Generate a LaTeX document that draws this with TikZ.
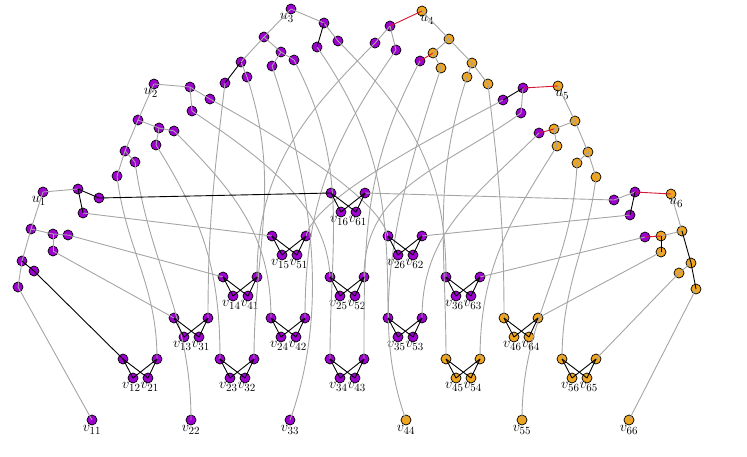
\documentclass[tikz,border=0pt]{standalone}
\definecolor{pur}{RGB}{158,0,208}
\definecolor{ora}{RGB}{240,165,30}
\definecolor{edg}{RGB}{165,165,165}
\definecolor{redg}{RGB}{215,20,50}
\newcommand\gadget[5]{%
  \node[#4] (#1TL) at (#2,#3) {};
  \node[#4] (#1TR) at ({#2+34},#3) {};
  \node[#4] (#1BL) at ({#2+10},{#3+19}) {};
  \node[#4] (#1BR) at ({#2+25},{#3+19}) {};
  \node[lab,anchor=north] (#1L) at ({#2+17.5},{#3+23.5}) {#5};
}
\newcommand\gadedges[1]{%
  \draw[be] (#1TL.center) -- (#1BL.center);
  \draw[be] (#1TL.center) -- (#1BR.center);
  \draw[be] (#1TR.center) -- (#1BL.center);
  \draw[be] (#1TR.center) -- (#1BR.center);
}
\begin{document}
\begin{tikzpicture}[x=1pt,y=-1pt,
  P/.style={circle,draw=black,line width=0.7pt,fill=pur,minimum size=10pt,inner sep=0pt},
  O/.style={P,fill=ora},
  ge/.style={draw=edg,line width=0.9pt},
  be/.style={draw=black,line width=0.9pt},
  re/.style={draw=redg,line width=0.9pt},
  lab/.style={font=\fontsize{15}{17}\selectfont,inner sep=0pt}]
\useasboundingbox (0,0) rectangle (747,456);

% ---------- gadgets ----------
\gadget{g16}{331}{193}{P}{$v_{16}v_{61}$}
\gadget{g15}{272}{236}{P}{$v_{15}v_{51}$}
\gadget{g26}{388}{236}{P}{$v_{26}v_{62}$}
\gadget{g14}{223}{277}{P}{$v_{14}v_{41}$}
\gadget{g25}{330}{277}{P}{$v_{25}v_{52}$}
\gadget{g36}{446}{277}{P}{$v_{36}v_{63}$}
\gadget{g13}{174}{318}{P}{$v_{13}v_{31}$}
\gadget{g24}{271}{318}{P}{$v_{24}v_{42}$}
\gadget{g35}{388}{318}{P}{$v_{35}v_{53}$}
\gadget{g46}{504}{318}{O}{$v_{46}v_{64}$}
\gadget{g12}{123}{359}{P}{$v_{12}v_{21}$}
\gadget{g23}{220}{359}{P}{$v_{23}v_{32}$}
\gadget{g34}{330}{359}{P}{$v_{34}v_{43}$}
\gadget{g45}{446}{359}{O}{$v_{45}v_{54}$}
\gadget{g56}{562}{359}{O}{$v_{56}v_{65}$}

% ---------- diagonal vertices ----------
\node[P] (v11) at (92,420) {};  \node[lab,anchor=north] (v11L) at (92,425.5) {$v_{11}$};
\node[P] (v22) at (191,420) {}; \node[lab,anchor=north] (v22L) at (191,425.5) {$v_{22}$};
\node[P] (v33) at (290,420) {}; \node[lab,anchor=north] (v33L) at (290,425.5) {$v_{33}$};
\node[O] (v44) at (406,420) {}; \node[lab,anchor=north] (v44L) at (406,425.5) {$v_{44}$};
\node[O] (v55) at (522,420) {}; \node[lab,anchor=north] (v55L) at (522,425.5) {$v_{55}$};
\node[O] (v66) at (629,420) {}; \node[lab,anchor=north] (v66L) at (629,425.5) {$v_{66}$};

% ---------- tree u1 ----------
\node[P] (U1) at (43,192) {}; \node[lab,anchor=north east] (U1L) at (46,196.5) {$u_1$};
\node[P] (A1) at (78,189) {}; \node[P] (D1) at (31,229) {};
\node[P] (E1) at (53,234) {}; \node[P] (H1) at (22,261) {};
\node[P] (L16) at (99,198) {}; \node[P] (L15) at (83,213) {};
\node[P] (L14) at (68,235) {}; \node[P] (L13) at (53,251) {};
\node[P] (L12) at (34,271) {}; \node[P] (L11) at (18,287) {};
% ---------- tree u2 ----------
\node[P] (U2) at (154,84) {}; \node[lab,anchor=north east] (U2L) at (158,88.5) {$u_2$};
\node[P] (A2) at (190,87) {}; \node[P] (D2) at (138,120) {};
\node[P] (E2) at (159,128) {}; \node[P] (H2) at (125,151) {};
\node[P] (L26) at (210,99) {}; \node[P] (L25) at (192,111) {};
\node[P] (L24) at (174,131) {}; \node[P] (L23) at (156,145) {};
\node[P] (L22) at (135,162) {}; \node[P] (L21) at (117,176) {};
% ---------- tree u3 ----------
\node[P] (U3) at (291,9) {}; \node[lab,anchor=north east] (U3L) at (294,13.5) {$u_3$};
\node[P] (A3) at (324,23) {}; \node[P] (D3) at (264,37) {};
\node[P] (E3) at (281,52) {}; \node[P] (H3) at (241,62) {};
\node[P] (L36) at (338,41) {}; \node[P] (L35) at (317,47) {};
\node[P] (L34) at (294,60) {}; \node[P] (L33) at (272,66) {};
\node[P] (L32) at (247,77) {}; \node[P] (L31) at (225,83) {};
% ---------- tree u4 ----------
\node[O] (U4) at (422,11) {}; \node[lab,anchor=north west] (U4L) at (420,15.5) {$u_4$};
\node[P] (A4) at (390,26) {}; \node[O] (D4) at (449,39) {};
\node[O] (E4) at (433,53) {}; \node[O] (H4) at (472,63) {};
\node[P] (L41) at (375,43) {}; \node[P] (L42) at (396,50) {};
\node[P] (L43) at (420,61) {}; \node[O] (L44) at (441,68) {};
\node[O] (L45) at (467,77) {}; \node[O] (L46) at (488,84) {};
% ---------- tree u5 ----------
\node[O] (U5) at (558,86) {}; \node[lab,anchor=north west] (U5L) at (555,90.5) {$u_5$};
\node[P] (A5) at (523,88) {}; \node[O] (D5) at (575,121) {};
\node[O] (E5) at (554,129) {}; \node[O] (H5) at (588,152) {};
\node[P] (L51) at (503,100) {}; \node[P] (L52) at (521,113) {};
\node[P] (L53) at (539,133) {}; \node[O] (L54) at (557,146) {};
\node[O] (L55) at (577,163) {}; \node[O] (L56) at (596,177) {};
% ---------- tree u6 ----------
\node[O] (U6) at (671,194) {}; \node[lab,anchor=north west] (U6L) at (669,198.5) {$u_6$};
\node[P] (A6) at (635,192) {}; \node[O] (D6) at (682,231) {};
\node[O] (E6) at (661,236) {}; \node[O] (H6) at (691,263) {};
\node[P] (L61) at (614,200) {}; \node[P] (L62) at (630,215) {};
\node[P] (L63) at (645,237) {}; \node[O] (L64) at (661,252) {};
\node[O] (L65) at (679,273) {}; \node[O] (L66) at (696,289) {};

% ---------- long connectors ----------
% u1 (straight)
\draw[ge] (L11.center) -- (v11.center);
\draw[ge] (L13.center) -- (g13TL.center);
\draw[ge] (L14.center) -- (g14TL.center);
\draw[ge] (L15.center) -- (g15TL.center);
% u6 (straight)
\draw[ge] (L61.center) -- (g16TR.center);
\draw[ge] (L62.center) -- (g26TR.center);
\draw[ge] (L63.center) -- (g36TR.center);
\draw[ge] (L64.center) -- (g46TR.center);
\draw[ge] (L65.center) -- (g56TR.center);
\draw[ge] (L66.center) -- (v66.center);
% u2
\draw[ge] (L21.center) .. controls +(9,74) and +(0,-75) .. (g12TR.center);
\draw[ge] (L22.center) .. controls +(15,105) and +(0,-106) .. (v22.center);
\draw[ge] (L23.center) .. controls +(47,75) and +(0,-89) .. (g23TL.center);
\draw[ge] (L24.center) .. controls +(59,59) and +(0,-84) .. (g24TL.center);
\draw[ge] (L25.center) .. controls +(75,50) and +(-3,-70) .. (g25TL.center);
\draw[ge] (L26.center) .. controls +(60,33) and +(-10,-40) .. (g26TL.center);
% u3
\draw[ge] (L31.center) .. controls +(-11,93) and +(0,-94) .. (g13TR.center);
\draw[ge] (L32.center) .. controls +(35,107) and +(0,-113) .. (g23TR.center);
\draw[ge] (L33.center) .. controls +(40,120) and +(40,-110) .. (v33.center);
\draw[ge] (L34.center) .. controls +(56,106) and +(0,-120) .. (g34TL.center);
\draw[ge] (L35.center) .. controls +(64,92) and +(0,-112) .. (g35TL.center);
\draw[ge] (L36.center) .. controls +(74,74) and +(0,-104) .. (g36TL.center);
% u4
\draw[ge] (L41.center) .. controls +(-74,74) and +(0,-105) .. (g14TR.center);
\draw[ge] (L42.center) .. controls +(-65,93) and +(0,-113) .. (g24TR.center);
\draw[ge] (L43.center) .. controls +(-57,107) and +(0,-121) .. (g34TR.center);
\draw[ge] (L44.center) .. controls +(-40,120) and +(-40,-110) .. (v44.center);
\draw[ge] (L45.center) .. controls +(-35,107) and +(0,-113) .. (g45TL.center);
\draw[ge] (L46.center) .. controls +(11,93) and +(0,-94) .. (g46TL.center);
% u5
\draw[ge] (L51.center) .. controls +(-65,35) and +(10,-40) .. (g15TR.center);
\draw[ge] (L52.center) .. controls +(-74,54) and +(0,-91) .. (g25TR.center);
\draw[ge] (L53.center) .. controls +(-62,62) and +(0,-87) .. (g35TR.center);
\draw[ge] (L54.center) .. controls +(-48,76) and +(0,-90) .. (g45TR.center);
\draw[ge] (L55.center) .. controls +(-4,105) and +(0,-105) .. (v55.center);
\draw[ge] (L56.center) .. controls +(-9,73) and +(0,-74) .. (g56TL.center);
% black long connectors
\draw[be] (L12.center) -- (g12TL.center);
\draw[be] (L16.center) -- (g16TL.center);

% ---------- tree edges ----------
\draw[ge] (U1.center) -- (A1.center);
\draw[ge] (U1.center) -- (D1.center);
\draw[ge] (D1.center) -- (E1.center);
\draw[ge] (E1.center) -- (L14.center);
\draw[ge] (E1.center) -- (L13.center);
\draw[ge] (D1.center) -- (H1.center);
\draw[ge] (H1.center) -- (L11.center);
\draw[be] (A1.center) -- (L16.center);
\draw[be] (A1.center) -- (L15.center);
\draw[be] (H1.center) -- (L12.center);

\draw[ge] (U2.center) -- (A2.center);
\draw[ge] (A2.center) -- (L26.center);
\draw[ge] (A2.center) -- (L25.center);
\draw[ge] (U2.center) -- (D2.center);
\draw[ge] (D2.center) -- (E2.center);
\draw[ge] (E2.center) -- (L24.center);
\draw[ge] (E2.center) -- (L23.center);
\draw[ge] (D2.center) -- (H2.center);
\draw[ge] (H2.center) -- (L22.center);
\draw[ge] (H2.center) -- (L21.center);

\draw[ge] (U3.center) -- (A3.center);
\draw[ge] (A3.center) -- (L36.center);
\draw[be] (A3.center) -- (L35.center);
\draw[ge] (U3.center) -- (D3.center);
\draw[ge] (D3.center) -- (E3.center);
\draw[ge] (E3.center) -- (L34.center);
\draw[ge] (E3.center) -- (L33.center);
\draw[ge] (D3.center) -- (H3.center);
\draw[ge] (H3.center) -- (L32.center);
\draw[be] (H3.center) -- (L31.center);

\draw[re] (U4.center) -- (A4.center);
\draw[ge] (A4.center) -- (L41.center);
\draw[ge] (A4.center) -- (L42.center);
\draw[ge] (U4.center) -- (D4.center);
\draw[ge] (D4.center) -- (E4.center);
\draw[re] (E4.center) -- (L43.center);
\draw[ge] (E4.center) -- (L44.center);
\draw[ge] (D4.center) -- (H4.center);
\draw[ge] (H4.center) -- (L45.center);
\draw[ge] (H4.center) -- (L46.center);

\draw[re] (U5.center) -- (A5.center);
\draw[be] (A5.center) -- (L51.center);
\draw[ge] (A5.center) -- (L52.center);
\draw[ge] (U5.center) -- (D5.center);
\draw[ge] (D5.center) -- (E5.center);
\draw[re] (E5.center) -- (L53.center);
\draw[ge] (E5.center) -- (L54.center);
\draw[ge] (D5.center) -- (H5.center);
\draw[ge] (H5.center) -- (L55.center);
\draw[ge] (H5.center) -- (L56.center);

\draw[re] (U6.center) -- (A6.center);
\draw[ge] (A6.center) -- (L61.center);
\draw[be] (A6.center) -- (L62.center);
\draw[ge] (U6.center) -- (D6.center);
\draw[ge] (D6.center) -- (E6.center);
\draw[re] (E6.center) -- (L63.center);
\draw[be] (E6.center) -- (L64.center);
\draw[be] (D6.center) -- (H6.center);
\draw[ge] (H6.center) -- (L65.center);
\draw[be] (H6.center) -- (L66.center);

% ---------- gadget edges ----------
\gadedges{g16}\gadedges{g15}\gadedges{g26}\gadedges{g14}\gadedges{g25}
\gadedges{g36}\gadedges{g13}\gadedges{g24}\gadedges{g35}\gadedges{g46}
\gadedges{g12}\gadedges{g23}\gadedges{g34}\gadedges{g45}\gadedges{g56}
\end{tikzpicture}
\end{document}
